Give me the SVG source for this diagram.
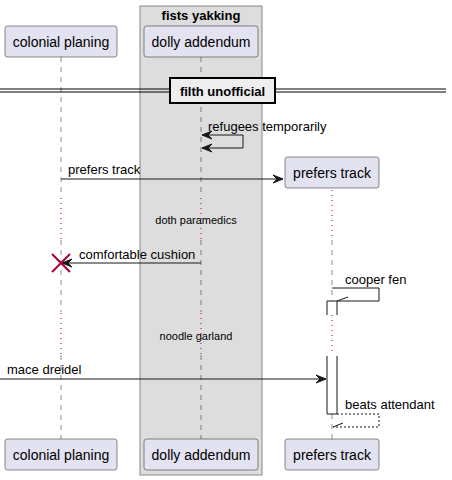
<svg xmlns="http://www.w3.org/2000/svg" width="452" height="480" viewBox="0 0 452 480">
<style>
.part{fill:#E2E2F0;stroke:#181818;stroke-width:0.5}
.pt{font-family:"Liberation Sans",Arial,sans-serif;font-size:14px;fill:#000}
.mt{font-family:"Liberation Sans",Arial,sans-serif;font-size:13px;fill:#000}
.dt{font-family:"Liberation Sans",Arial,sans-serif;font-size:11px;fill:#000}
.bt{font-family:"Liberation Sans",Arial,sans-serif;font-size:13px;font-weight:bold;fill:#000}
.life{stroke:#181818;stroke-width:0.5;stroke-dasharray:5,5;fill:none}
.delay{stroke:#A80036;stroke-width:1;stroke-dasharray:1,4;fill:none}
.msg{stroke:#181818;stroke-width:1;fill:none}
.ret{stroke:#181818;stroke-width:1;fill:none;stroke-dasharray:2,2}
.head{fill:#181818;stroke:#181818;stroke-width:1}
.act{fill:#FFFFFF;stroke:#181818;stroke-width:1}
</style>
<g id="box-fists-yakking">
<rect x="140" y="6" width="122" height="469" fill="#DDDDDD" stroke="#888888" stroke-width="1"/>
<text class="bt" x="201" y="20" text-anchor="middle">fists yakking</text>
</g>
<g id="lifelines">
<path class="life" d="M61,57 V197 M61,240 V312 M61,355 V439"/>
<path class="delay" d="M61,198 V240 M61,313 V355"/>
<path class="life" d="M201,57 V197 M201,240 V312 M201,355 V439"/>
<path class="delay" d="M201,198 V240 M201,313 V355"/>
<path class="delay" d="M332,190 V240 M332,315 V355"/>
<path class="life" d="M332,240 V301 M332,414 V439"/>
</g>
<g id="divider">
<line x1="0" y1="89" x2="446" y2="89" stroke="#000" stroke-width="1"/>
<line x1="0" y1="92" x2="446" y2="92" stroke="#000" stroke-width="1"/>
<rect x="170" y="78" width="105" height="25" fill="#EEEEEE" stroke="#000" stroke-width="2"/>
<text class="bt" x="222.5" y="96" text-anchor="middle">filth unofficial</text>
</g>
<g id="activations">
<rect x="327" y="301" width="10" height="14" fill="#FFFFFF"/>
<path class="msg" d="M327,315 V301 H337 V315"/>
<rect x="327" y="356" width="10" height="58" fill="#FFFFFF"/>
<path class="msg" d="M327,356 V414 H337 V356"/>
</g>
<g id="connectors">
<path class="msg" d="M202,135 H243 V148 H202"/>
<polygon class="head" points="202,135 212,131 208,135 212,139"/>
<polygon class="head" points="202,148 212,144 208,148 212,152"/>
<text class="mt" x="208" y="131">refugees temporarily</text>
<line class="msg" x1="61" y1="179" x2="283" y2="179"/>
<polygon class="head" points="283,179 273,175 277,179 273,183"/>
<text class="mt" x="68" y="174">prefers track</text>
<text class="dt" x="196" y="224" text-anchor="middle">doth paramedics</text>
<line class="msg" x1="201" y1="263" x2="62" y2="263"/>
<polygon class="head" points="62,263 72,259 68,263 72,267"/>
<text class="mt" x="79" y="259">comfortable cushion</text>
<path class="msg" d="M332,288 H379 V301 H337"/>
<line class="msg" x1="337" y1="301" x2="348" y2="297"/>
<text class="mt" x="345" y="284">cooper fen</text>
<text class="dt" x="196" y="340" text-anchor="middle">noodle garland</text>
<line class="msg" x1="0" y1="379" x2="326" y2="379"/>
<polygon class="head" points="326,379 316,375 320,379 316,383"/>
<text class="mt" x="7" y="374">mace dreidel</text>
<path class="ret" d="M337,414 H379 V427 H333"/>
<line class="msg" x1="333" y1="427" x2="343" y2="423"/>
<text class="mt" x="345" y="409">beats attendant</text>
</g>
<g id="destroy-colonial">
<path d="M52,254 L70,272 M70,254 L52,272" stroke="#A80036" stroke-width="2" fill="none"/>
</g>
<g id="p-colonial-planing">
<rect class="part" x="5" y="26" width="112" height="31" rx="2.5"/>
<text class="pt" x="61" y="47" text-anchor="middle">colonial planing</text>
<rect class="part" x="5" y="439" width="112" height="31" rx="2.5"/>
<text class="pt" x="61" y="460" text-anchor="middle">colonial planing</text>
</g>
<g id="p-dolly-addendum">
<rect class="part" x="144" y="26" width="114" height="31" rx="2.5"/>
<text class="pt" x="201" y="47" text-anchor="middle">dolly addendum</text>
<rect class="part" x="144" y="439" width="114" height="31" rx="2.5"/>
<text class="pt" x="201" y="460" text-anchor="middle">dolly addendum</text>
</g>
<g id="p-prefers-track">
<rect class="part" x="285" y="157" width="94" height="31" rx="2.5"/>
<text class="pt" x="332" y="178" text-anchor="middle">prefers track</text>
<rect class="part" x="285" y="439" width="94" height="31" rx="2.5"/>
<text class="pt" x="332" y="460" text-anchor="middle">prefers track</text>
</g>
</svg>
